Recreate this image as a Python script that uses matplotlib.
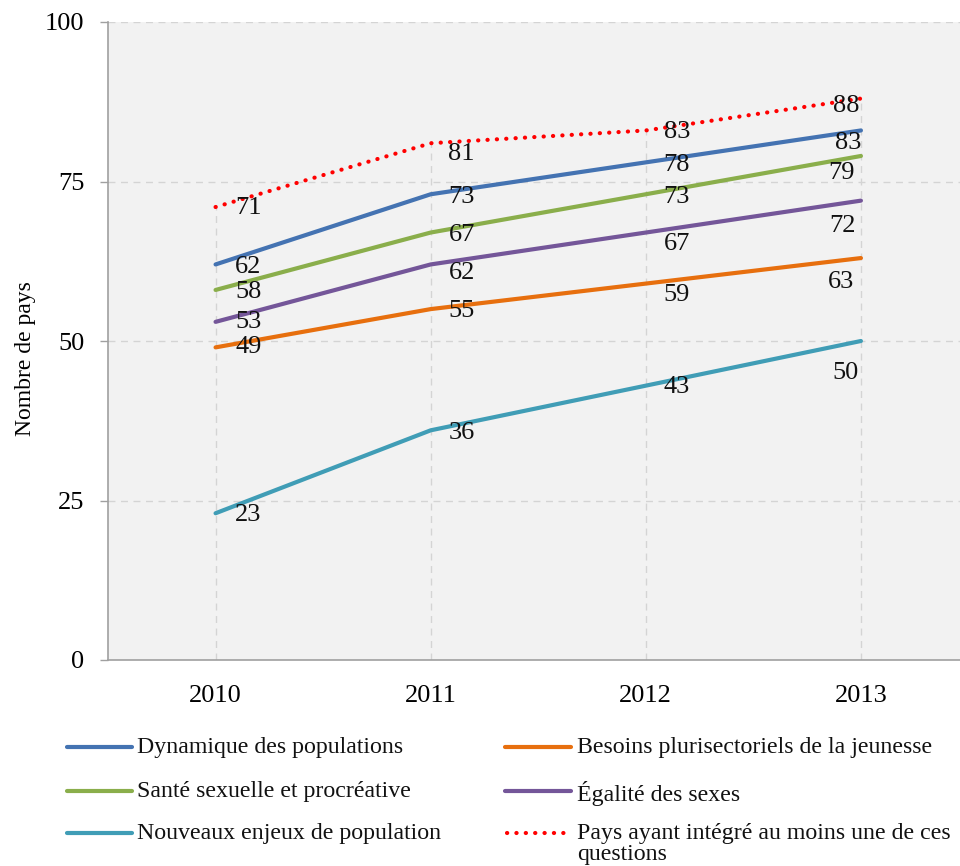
import matplotlib
matplotlib.use("Agg")
import matplotlib.pyplot as plt
from matplotlib.lines import Line2D

plt.rcParams['font.family'] = ['Liberation Serif', 'DejaVu Serif']

years = ['2010', '2011', '2012', '2013']

dynamique = [62, 73, 78, 83]
sante = [58, 67, 73, 79]
egalite = [53, 62, 67, 72]
besoins = [49, 55, 59, 63]
nouveaux = [23, 36, 43, 50]
pays = [71, 81, 83, 88]

names = ['Dynamique des populations', 'Besoins plurisectoriels de la jeunesse',
         'Santé sexuelle et procréative', 'Égalité des sexes',
         'Nouveaux enjeux de population',
         'Pays ayant intégré au moins une de ces\nquestions']

# label offsets in pixels (dx, dy down) for each point
offsets = {
    'dyn': [(33, 3), (31, 3), (31, 3), (-13, 13)],
    'sante': [(33, 2), (31, 2), (31, 3), (-19, 17)],
    'egal': [(33, 0), (31, 9), (31, 11), (-18, 25)],
    'bes': [(33, 0), (31, 2), (31, 11), (-20, 24)],
    'nouv': [(33, 2), (31, 3), (31, 1), (-15, 32)],
    'pays': [(33, 1), (31, 11), (31, 2), (-15, 7)],
}

c_blue = '#4473b2'
c_orange = '#e76f0e'
c_green = '#8aae4b'
c_purple = '#745699'
c_teal = '#409db6'
c_red = '#ff0000'

fig = plt.figure(figsize=(9.6, 8.66), dpi=100)
ax = fig.add_axes([108/960, 206/866, 860.5/960, 638/866])
ax.set_facecolor('#f2f2f2')

x = list(range(len(years)))

# grid and drop lines
for v in [25, 50, 75, 100]:
    ax.axhline(v, color='#d4d4d4', lw=1, ls=(0, (5, 4)), zorder=1)
ax.vlines(x, 0, pays, color='#d4d4d4', lw=1, ls=(0, (5, 4)), zorder=1)

series = [
    ('dyn', dynamique, c_blue),
    ('sante', sante, c_green),
    ('egal', egalite, c_purple),
    ('bes', besoins, c_orange),
    ('nouv', nouveaux, c_teal),
]
for key, vals, col in series:
    ax.plot(x, vals, color=col, lw=3, solid_capstyle='round', zorder=3)
ax.plot(x, pays, color=c_red, lw=3, ls=(0, (0.05, 2.2)),
        dash_capstyle='round', zorder=4)

for key, vals in [('dyn', dynamique), ('sante', sante), ('egal', egalite),
                  ('bes', besoins), ('nouv', nouveaux), ('pays', pays)]:
    for i, v in enumerate(vals):
        dx, dy = offsets[key][i]
        ax.annotate(str(v), (x[i], v), xytext=(dx, -dy),
                    textcoords='offset pixels', ha='center', va='center',
                    fontsize=19, color='#111111', zorder=5)

ax.set_xlim(-0.5, 3.5)
ax.set_ylim(0, 100)
ax.set_yticks([0, 25, 50, 75, 100])
ax.set_xticks(x)
ax.set_xticklabels(years)
ax.tick_params(axis='y', length=6, width=1, color='#a0a0a0', pad=11,
               labelsize=19)
ax.tick_params(axis='x', length=0, pad=18, labelsize=19)
for s in ['top', 'right']:
    ax.spines[s].set_visible(False)
for s in ['left', 'bottom']:
    ax.spines[s].set_color('#a0a0a0')
    ax.spines[s].set_linewidth(1.2)
ax.set_ylabel('Nombre de pays', fontsize=17)
ax.yaxis.set_label_coords(-72/860.5, 0.473)

# legend drawn by hand in two columns
def fx(px):
    return px / 960

def fy(py):
    return 1 - py / 866

leg_cols = [(67, 132, 137), (505, 571, 577)]
leg_rows = [747, 791, 833]
leg_colors = [c_blue, c_orange, c_green, c_purple, c_teal, c_red]
for k, name in enumerate(names):
    col = k % 2
    row = k // 2
    x0, x1, tx = leg_cols[col]
    yy = leg_rows[row]
    if leg_colors[k] == c_red:
        ln = Line2D([fx(x0 + 2), fx(x1 - 4)], [fy(yy), fy(yy)], transform=fig.transFigure,
                    color=c_red, lw=3, ls=(0, (0.05, 2.2)), dash_capstyle='round')
    else:
        ln = Line2D([fx(x0), fx(x1)], [fy(yy), fy(yy)], transform=fig.transFigure,
                    color=leg_colors[k], lw=3, solid_capstyle='round')
    fig.add_artist(ln)
    fig.text(fx(tx), fy(yy - 10), name, fontsize=17.2, va='top', ha='left',
             linespacing=1.03, color='#111111')

fig.savefig('out.png', dpi=100)
